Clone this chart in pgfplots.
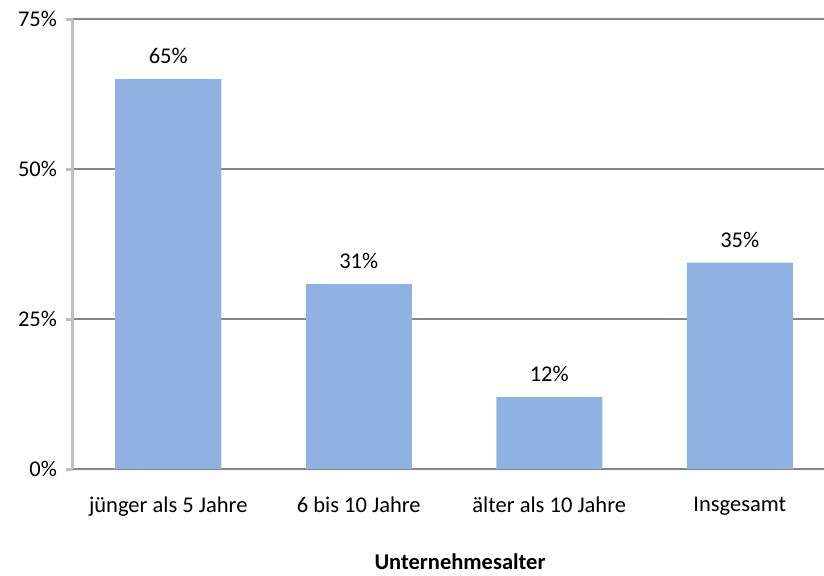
\documentclass[border=0pt]{standalone}
\usepackage{pgfplots}
\pgfplotsset{compat=1.18}
\usepackage{fontspec}
\setmainfont{Carlito}
\definecolor{barblue}{RGB}{143,178,226}
\definecolor{gridgray}{RGB}{134,134,134}
\definecolor{yaxgray}{RGB}{191,191,191}
\begin{document}
\begin{tikzpicture}
\useasboundingbox (0,0) rectangle (412pt,287.5pt);
\begin{axis}[
  at={(36.5pt,53pt)}, anchor=south west,
  scale only axis,
  width=381pt, height=225pt,
  xmin=-0.5, xmax=3.5,
  ymin=0, ymax=75,
  axis x line*=bottom, axis y line*=left,
  x axis line style={gridgray, line width=1pt, -},
  y axis line style={yaxgray, line width=1.5pt, -},
  xtick={0,1,2,3},
  xticklabels={jünger als 5 Jahre, 6 bis 10 Jahre, älter als 10 Jahre, Insgesamt},
  major x tick style={draw=none},
  extra x ticks={0.5,1.5,2.5},
  extra x tick labels={},
  extra x tick style={major tick length=3.5pt, tick align=outside, tick style={gridgray, line width=0.8pt}, grid=none},
  ytick={0,25,50,75},
  yticklabels={0\%,25\%,50\%,75\%},
  ymajorgrids,
  major grid style={gridgray, line width=0.9pt},
  y tick style={yaxgray, line width=1.5pt},
  tick align=outside,
  major tick length=3.5pt,
  ticklabel style={font=\fontsize{11.25pt}{13pt}\selectfont, black},
  xticklabel style={yshift=-7pt},
  yticklabel style={xshift=-1pt},
  xlabel={\textbf{Unternehmesalter}},
  xlabel style={font=\fontsize{11.25pt}{13pt}\selectfont, yshift=-4.5pt, xshift=3pt},
  ybar, bar width=53pt,
  nodes near coords,
  point meta=explicit symbolic,
  nodes near coords style={font=\fontsize{11.25pt}{13pt}\selectfont, black, anchor=south, yshift=4pt},
  clip=false,
]
\addplot[fill=barblue, draw=none] coordinates {
  (0,65) [65\%]
  (1,30.8) [31\%]
  (2,12) [12\%]
  (3,34.4) [35\%]
};
\end{axis}
\end{tikzpicture}
\end{document}
